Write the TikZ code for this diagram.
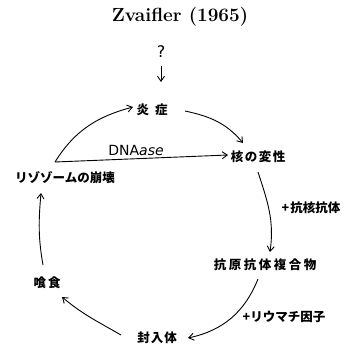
\documentclass[tikz,border=0pt]{standalone}
\usepackage{fontspec}
\usetikzlibrary{arrows.meta,calc}
\newfontfamily\jpfont{Noto Sans CJK JP}
\newfontfamily\lsans{DejaVu Sans}
\tikzset{
  jp/.style={font=\jpfont\bfseries\fontsize{12.5}{14}\selectfont, inner sep=1pt},
  conn/.style={line width=0.9pt, -{Straight Barb[length=5pt,width=7pt]}},
}
\begin{document}
\begin{tikzpicture}[x=1pt,y=-1pt]
\useasboundingbox (0,0) rectangle (348,348);
\node[font=\bfseries\fontsize{19}{21}\selectfont] (title) at (180,17) {Zvaifler (1965)};
\node[font=\lsans\fontsize{16}{18}\selectfont] (q) at (161,52) {?};
\node[jp] (en) at (152,110) {炎\hspace{6pt}症};
\node[jp] (kaku) at (258,157) {核\hspace{1.5pt}の\hspace{1.5pt}変\hspace{1.5pt}性};
\node[jp] (ryo) at (65,178) {リゾゾームの崩壊};
\node[jp] (kokaku) at (311,208) {+\hspace{1pt}抗核抗体};
\node[jp] (kogen) at (265,265) {抗\hspace{2.5pt}原\hspace{2.5pt}抗\hspace{2.5pt}体\hspace{2.5pt}複\hspace{2.5pt}合\hspace{2.5pt}物};
\node[jp] (rf) at (284,317) {+リウマチ因子};
\node[jp] (fu) at (157,338) {封\hspace{1pt}入\hspace{1pt}体};
\node[jp] (don) at (47,283) {喰\hspace{2pt}食};
\node[font=\lsans\fontsize{14}{16}\selectfont] (dna) at (136,150) {DNA\textit{ase}};
\coordinate (jct) at ($(ryo)+(-10,-16)$);
% connectors
\draw[conn] ($(q)+(0,14)$) -- ($(q)+(0,30)$);
\draw[conn] (jct) to[out=58,in=195] ($(en)+(-19,-3)$);
\draw[conn] ($(en)+(33,1)$) to[out=-12,in=130] ($(kaku)+(-15,-14)$);
\draw[conn] (jct) -- ($(kaku)+(-30,-2)$);
\draw[conn] ($(kaku)+(0,15)$) to[out=-72,in=82] ($(kogen)+(5,-13)$);
\draw[conn] ($(kogen)+(-7,14)$) to[out=-112,in=12] ($(fu)+(31,0)$);
\draw[conn] ($(fu)+(-36,-3)$) to[out=150,in=-40] ($(don)+(15,14)$);
\draw[conn] ($(don)+(-4,-18)$) to[out=100,in=-95] ($(ryo)+(-24,15)$);
\end{tikzpicture}
\end{document}
